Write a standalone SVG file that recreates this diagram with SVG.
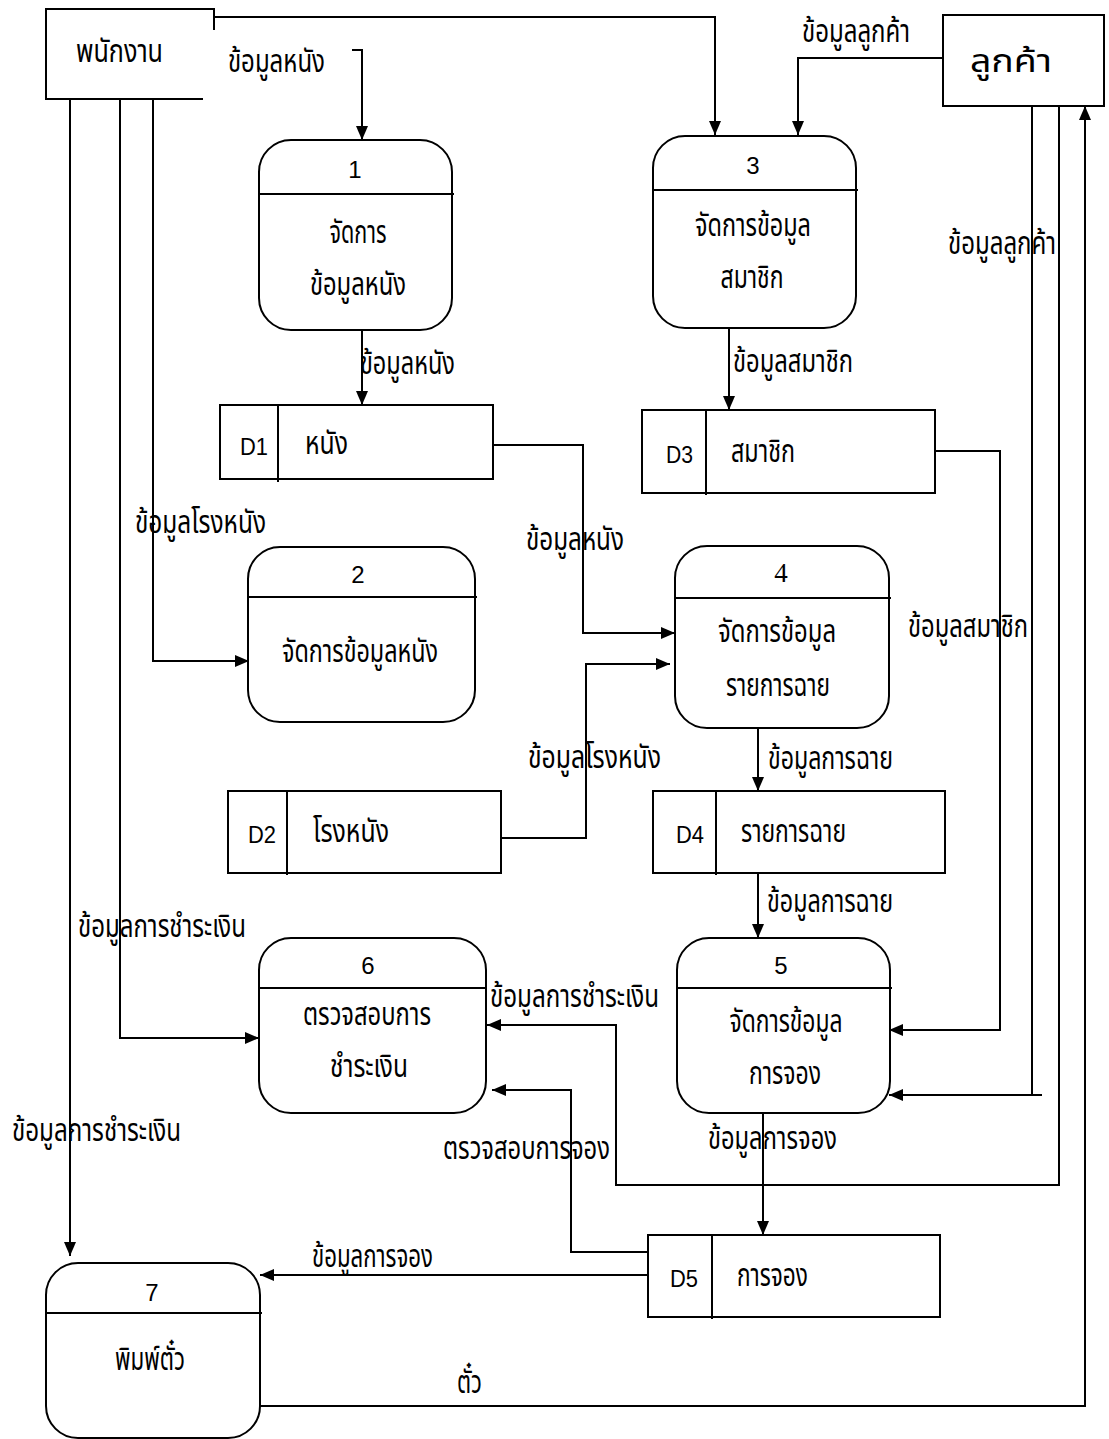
<svg xmlns="http://www.w3.org/2000/svg" width="1109" height="1439" viewBox="0 0 1109 1439">
  <style>
    .bg { fill: #ffffff; }
    .shape { fill: #ffffff; stroke: #000000; stroke-width: 2; }
    .line { fill: none; stroke: #000000; stroke-width: 2; }
    .flow { fill: none; stroke: #000000; stroke-width: 2; marker-end: url(#arrow); }
    .th { font-family: "Noto Sans Thai", "Noto Sans", "DejaVu Sans", sans-serif; font-size: 32px; fill: #000000; }
    .num { font-family: "Liberation Sans", Arial, sans-serif; font-size: 24px; fill: #000000; }
    .mid { text-anchor: middle; }
  </style>
  <defs>
    <marker id="arrow" viewBox="0 0 14 12" markerWidth="14" markerHeight="12" refX="14" refY="6" orient="auto" markerUnits="userSpaceOnUse">
      <path d="M0,0 L14,6 L0,12 z" fill="#000000"/>
    </marker>
  </defs>
  <rect class="bg" x="0" y="0" width="1109" height="1439"/>

  <!-- data flows -->
  <g id="connectors">
    <path class="flow" d="M214,17 H715 V135"/>
    <path class="flow" d="M352,50 H362 V140"/>
    <path class="flow" d="M362,330 V405"/>
    <path class="flow" d="M153,100 V661 H249"/>
    <path class="flow" d="M120,100 V1038 H259"/>
    <path class="flow" d="M70,100 V1256"/>
    <path class="flow" d="M493,445 H583 V633 H675"/>
    <path class="flow" d="M501,838 H586 V664 H670"/>
    <path class="flow" d="M943,58 H798 V135"/>
    <path class="flow" d="M729,328 V410"/>
    <path class="flow" d="M935,451 H1000 V1030 H889"/>
    <path class="line" d="M1032,106 V1095"/>
    <path class="flow" d="M1042,1095 H889"/>
    <path class="flow" d="M1059,106 V1185 H616 V1025 H487"/>
    <path class="flow" d="M260,1406 H1085 V106"/>
    <path class="flow" d="M758,728 V791"/>
    <path class="flow" d="M758,873 V938"/>
    <path class="flow" d="M763,1113 V1235"/>
    <path class="flow" d="M648,1252 H571 V1090 H492"/>
    <path class="flow" d="M648,1275 H260"/>
  </g>

  <!-- flow labels -->
  <g id="flow-labels" class="th">
    <text x="228" y="72" textLength="97" lengthAdjust="spacingAndGlyphs">ข้อมูลหนัง</text>
    <text x="802" y="42" textLength="108" lengthAdjust="spacingAndGlyphs">ข้อมูลลูกค้า</text>
    <text x="360" y="374" textLength="95" lengthAdjust="spacingAndGlyphs">ข้อมูลหนัง</text>
    <text x="733" y="372" textLength="120" lengthAdjust="spacingAndGlyphs">ข้อมูลสมาชิก</text>
    <text x="948" y="254" textLength="108" lengthAdjust="spacingAndGlyphs">ข้อมูลลูกค้า</text>
    <text x="135" y="533" textLength="131" lengthAdjust="spacingAndGlyphs">ข้อมูลโรงหนัง</text>
    <text x="526" y="550" textLength="98" lengthAdjust="spacingAndGlyphs">ข้อมูลหนัง</text>
    <text x="908" y="637" textLength="120" lengthAdjust="spacingAndGlyphs">ข้อมูลสมาชิก</text>
    <text x="528" y="768" textLength="133" lengthAdjust="spacingAndGlyphs">ข้อมูลโรงหนัง</text>
    <text x="768" y="769" textLength="125" lengthAdjust="spacingAndGlyphs">ข้อมูลการฉาย</text>
    <text x="767" y="912" textLength="126" lengthAdjust="spacingAndGlyphs">ข้อมูลการฉาย</text>
    <text x="78" y="937" textLength="168" lengthAdjust="spacingAndGlyphs">ข้อมูลการชำระเงิน</text>
    <text x="490" y="1007" textLength="169" lengthAdjust="spacingAndGlyphs">ข้อมูลการชำระเงิน</text>
    <text x="12" y="1141" textLength="169" lengthAdjust="spacingAndGlyphs">ข้อมูลการชำระเงิน</text>
    <text x="708" y="1149" textLength="129" lengthAdjust="spacingAndGlyphs">ข้อมูลการจอง</text>
    <text x="443" y="1159" textLength="167" lengthAdjust="spacingAndGlyphs">ตรวจสอบการจอง</text>
    <text x="312" y="1267" textLength="121" lengthAdjust="spacingAndGlyphs">ข้อมูลการจอง</text>
    <text x="457" y="1393" textLength="25" lengthAdjust="spacingAndGlyphs">ตั๋ว</text>
  </g>

  <!-- external entities -->
  <g id="entity-staff">
    <rect x="46" y="9" width="168" height="91" fill="#ffffff"/>
    <path class="line" d="M203,99 H46 V9 H214 V30"/>
    <text class="th" x="76" y="62" textLength="87" lengthAdjust="spacingAndGlyphs">พนักงาน</text>
  </g>
  <g id="entity-customer">
    <rect class="shape" x="943" y="15" width="161" height="91"/>
    <text class="th" x="970" y="72" textLength="82" lengthAdjust="spacingAndGlyphs">ลูกค้า</text>
  </g>

  <!-- processes -->
  <g id="process-1">
    <rect class="shape" x="259" y="140" width="193" height="190" rx="32"/>
    <line class="line" x1="259" y1="194" x2="454" y2="194"/>
    <text class="num mid" x="355" y="178">1</text>
    <text class="th mid" x="358" y="243" textLength="57" lengthAdjust="spacingAndGlyphs">จัดการ</text>
    <text class="th mid" x="358" y="295" textLength="96" lengthAdjust="spacingAndGlyphs">ข้อมูลหนัง</text>
  </g>
  <g id="process-2">
    <rect class="shape" x="248" y="547" width="227" height="175" rx="32"/>
    <line class="line" x1="248" y1="597" x2="477" y2="597"/>
    <text class="num mid" x="358" y="583">2</text>
    <text class="th mid" x="360" y="662" textLength="156" lengthAdjust="spacingAndGlyphs">จัดการข้อมูลหนัง</text>
  </g>
  <g id="process-3">
    <rect class="shape" x="653" y="136" width="203" height="192" rx="32"/>
    <line class="line" x1="653" y1="190" x2="858" y2="190"/>
    <text class="num mid" x="753" y="174">3</text>
    <text class="th mid" x="753" y="236" textLength="116" lengthAdjust="spacingAndGlyphs">จัดการข้อมูล</text>
    <text class="th mid" x="752" y="288" textLength="63" lengthAdjust="spacingAndGlyphs">สมาชิก</text>
  </g>
  <g id="process-4">
    <rect class="shape" x="675" y="546" width="214" height="182" rx="32"/>
    <line class="line" x1="675" y1="598" x2="891" y2="598"/>
    <text class="mid" x="781" y="582" font-family="Liberation Serif, serif" font-size="27">4</text>
    <text class="th mid" x="777" y="642" textLength="118" lengthAdjust="spacingAndGlyphs">จัดการข้อมูล</text>
    <text class="th mid" x="778" y="696" textLength="104" lengthAdjust="spacingAndGlyphs">รายการฉาย</text>
  </g>
  <g id="process-5">
    <rect class="shape" x="677" y="938" width="213" height="175" rx="32"/>
    <line class="line" x1="677" y1="988" x2="892" y2="988"/>
    <text class="num mid" x="781" y="974">5</text>
    <text class="th mid" x="786" y="1032" textLength="113" lengthAdjust="spacingAndGlyphs">จัดการข้อมูล</text>
    <text class="th mid" x="785" y="1084" textLength="72" lengthAdjust="spacingAndGlyphs">การจอง</text>
  </g>
  <g id="process-6">
    <rect class="shape" x="259" y="938" width="227" height="175" rx="32"/>
    <line class="line" x1="259" y1="988" x2="486" y2="988"/>
    <text class="num mid" x="368" y="974">6</text>
    <text class="th mid" x="367" y="1025" textLength="128" lengthAdjust="spacingAndGlyphs">ตรวจสอบการ</text>
    <text class="th mid" x="369" y="1077" textLength="78" lengthAdjust="spacingAndGlyphs">ชำระเงิน</text>
  </g>
  <g id="process-7">
    <rect class="shape" x="46" y="1263" width="214" height="175" rx="32"/>
    <line class="line" x1="46" y1="1313" x2="262" y2="1313"/>
    <text class="num mid" x="152" y="1301">7</text>
    <text class="th mid" x="150" y="1370" textLength="70" lengthAdjust="spacingAndGlyphs">พิมพ์ตั๋ว</text>
  </g>

  <!-- data stores -->
  <g id="store-d1">
    <rect class="shape" x="220" y="405" width="273" height="74"/>
    <line class="line" x1="278" y1="405" x2="278" y2="482"/>
    <text class="num" x="240" y="455" textLength="28" lengthAdjust="spacingAndGlyphs">D1</text>
    <text class="th" x="305" y="454" textLength="43" lengthAdjust="spacingAndGlyphs">หนัง</text>
  </g>
  <g id="store-d2">
    <rect class="shape" x="228" y="791" width="273" height="82"/>
    <line class="line" x1="287" y1="791" x2="287" y2="875"/>
    <text class="num" x="248" y="843" textLength="28" lengthAdjust="spacingAndGlyphs">D2</text>
    <text class="th" x="313" y="842" textLength="76" lengthAdjust="spacingAndGlyphs">โรงหนัง</text>
  </g>
  <g id="store-d3">
    <rect class="shape" x="642" y="410" width="293" height="83"/>
    <line class="line" x1="706" y1="410" x2="706" y2="495"/>
    <text class="num" x="666" y="463" textLength="27" lengthAdjust="spacingAndGlyphs">D3</text>
    <text class="th" x="731" y="462" textLength="64" lengthAdjust="spacingAndGlyphs">สมาชิก</text>
  </g>
  <g id="store-d4">
    <rect class="shape" x="653" y="791" width="292" height="82"/>
    <line class="line" x1="716" y1="791" x2="716" y2="875"/>
    <text class="num" x="676" y="843" textLength="28" lengthAdjust="spacingAndGlyphs">D4</text>
    <text class="th" x="741" y="842" textLength="105" lengthAdjust="spacingAndGlyphs">รายการฉาย</text>
  </g>
  <g id="store-d5">
    <rect class="shape" x="648" y="1235" width="292" height="82"/>
    <line class="line" x1="712" y1="1235" x2="712" y2="1319"/>
    <text class="num" x="670" y="1287" textLength="28" lengthAdjust="spacingAndGlyphs">D5</text>
    <text class="th" x="737" y="1286" textLength="71" lengthAdjust="spacingAndGlyphs">การจอง</text>
  </g>
</svg>
